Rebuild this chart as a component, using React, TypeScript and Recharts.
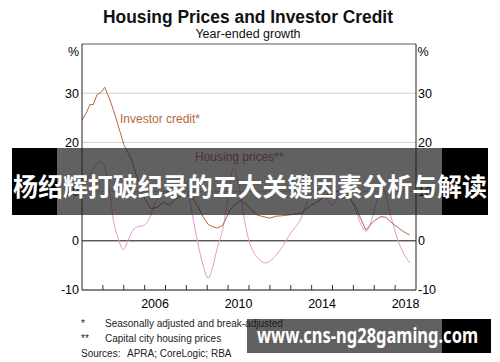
import React from 'react';
import { LineChart, Line, XAxis, YAxis, CartesianGrid, ReferenceLine } from 'recharts';

// ---------- data ----------
const housingYears = [
  2003.0, 2003.25, 2003.5, 2003.75, 2003.95, 2004.15, 2004.35, 2004.5, 2004.75, 2004.98,
  2005.2, 2005.4, 2005.7, 2005.95, 2006.25, 2006.5, 2006.75, 2007.0, 2007.25, 2007.5,
  2007.8, 2008.0, 2008.3, 2008.55, 2008.8, 2009.05, 2009.25, 2009.46, 2009.77, 2010.0,
  2010.25, 2010.5, 2010.75, 2011.0, 2011.25, 2011.5, 2011.8, 2012.1, 2012.5, 2013.0,
  2013.5, 2013.8, 2014.1, 2014.4, 2014.7, 2015.0, 2015.3, 2015.55, 2015.8, 2016.1,
  2016.35, 2016.6, 2016.95, 2017.25, 2017.45, 2017.7, 2018.1, 2018.4, 2018.7,
];
const housingValues = [
  11, 12.5, 14.3, 15.7, 16.1, 14, 9, 4.3, 0.3, -1.8,
  0, 1.9, 2.9, 3.1, 4.8, 7.7, 9.3, 9.8, 10.5, 12,
  13, 11.5, 5, -0.5, -5, -7.6, -5.5, -1.8, 2.9, 9,
  14.8, 11.5, 5, 0, -2.5, -3.8, -4.5, -3.8, -1.8, 1.6,
  4.6, 8, 10.3, 10.5, 8.5, 7.3, 9.5, 10.5, 9, 6.3,
  3.5, 1.9, 5.3, 9.8, 10.5, 6.5, 0.5, -2.5, -4.5,
];

const creditYears = [
  2003.0, 2003.23, 2003.38, 2003.54, 2003.73, 2003.9, 2004.09, 2004.34, 2004.58, 2004.82,
  2005.0, 2005.38, 2005.7, 2006.0, 2006.3, 2006.6, 2006.9, 2007.2, 2007.5, 2007.8,
  2008.05, 2008.3, 2008.55, 2008.8, 2009.05, 2009.3, 2009.5, 2009.75, 2010.1, 2010.35,
  2010.6, 2010.85, 2011.1, 2011.4, 2011.8, 2012.0, 2012.3, 2012.6, 2013.0, 2013.5,
  2013.9, 2014.4, 2014.75, 2015.0, 2015.3, 2015.6, 2015.85, 2016.1, 2016.35, 2016.6,
  2016.95, 2017.3, 2017.55, 2017.8, 2018.1, 2018.35, 2018.6, 2018.7,
];
const creditValues = [
  24.5, 26.2, 27.7, 27.7, 29.8, 30.1, 31.2, 28.6, 25.6, 22.2,
  19.6, 16.4, 12, 8.5, 6.5, 6.8, 7.8, 7.3, 8.5, 9.2,
  9.3, 8.7, 7, 4.9, 3.3, 2.8, 2.6, 3.2, 6.3, 7.5,
  8.2, 7.5, 6.3, 5.2, 4.8, 4.6, 5, 5.1, 5.3, 5.6,
  7, 8.3, 9.5, 9.7, 10.2, 10, 8.5, 7, 4.5, 2.2,
  3.9, 4.9, 4.8, 3.8, 2.8, 2, 1.4, 1.2,
];

const yTicks = [-10, 0, 10, 20, 30, 40];
const xTickYears = [2004, 2005, 2006, 2007, 2008, 2009, 2010, 2011, 2012, 2013, 2014, 2015, 2016, 2017, 2018];
const labelledYears = [2006, 2010, 2014, 2018];

const housingData = housingYears.map((x, i) => ({ x, v: housingValues[i] }));
const creditData = creditYears.map((x, i) => ({ x, v: creditValues[i] }));

// ---------- layout ----------
const W = 500;
const H = 362;
const YAXIS_W = 40;
const XAXIS_H = 30;
const MARGIN = { top: 44, right: 44, bottom: 42, left: 42 };
const X_MIN = 2003;
const X_MAX = 2019;
const PLOT_W = W - MARGIN.left - MARGIN.right - 2 * YAXIS_W;
const HALF_YEAR_PX = PLOT_W / (X_MAX - X_MIN) / 2;

const FONT = '"Liberation Sans", Arial, Helvetica, sans-serif';
const BROWN = '#b5693a';
const PINK = '#e596d3';
const PINK_TEXT = '#c0509a';

function XTick(props: any) {
  const { x, y, payload } = props;
  const value = payload?.value;
  const labelled = labelledYears.includes(value);
  return (
    <g>
      <line x1={x} x2={x} y1={y} y2={y - 5} stroke="#333" strokeWidth={1} />
      {labelled && (
        <text x={x + HALF_YEAR_PX} y={y + 17.5} textAnchor="middle" fontSize={12.5} fill="#000" fontFamily={FONT}>
          {value}
        </text>
      )}
    </g>
  );
}

export default function App() {
  const yFmt = (v: number) => (v === 40 ? '' : String(v));
  return (
    <div style={{ position: 'absolute', left: 0, top: 0, width: W, height: H, background: '#fff', overflow: 'hidden' }}>
      {/* text layer */}
      <svg width={W} height={H} style={{ position: 'absolute', left: 0, top: 0 }}>
        <text x={248} y={22.5} textAnchor="middle" fontSize={17.5} fontWeight={700} fill="#111" fontFamily={FONT} textLength={290} lengthAdjust="spacingAndGlyphs">
          Housing Prices and Investor Credit
        </text>
        <text x={248} y={38} textAnchor="middle" fontSize={12.5} fill="#111" fontFamily={FONT}>
          Year-ended growth
        </text>
        <text x={79} y={55.5} textAnchor="end" fontSize={12.5} fill="#000" fontFamily={FONT}>%</text>
        <text x={417.5} y={55.5} textAnchor="start" fontSize={12.5} fill="#000" fontFamily={FONT}>%</text>
        <text x={120} y={122.5} fontSize={12} fill={BROWN} fontFamily={FONT}>Investor credit*</text>
        <text x={195} y={161} fontSize={12} fill={PINK_TEXT} fontFamily={FONT}>Housing prices**</text>
        <g fontSize={10} fill="#222" fontFamily={FONT}>
          <text x={81} y={327}>*</text>
          <text x={105} y={327}>Seasonally adjusted and break-adjusted</text>
          <text x={81} y={341.5}>**</text>
          <text x={105} y={341.5}>Capital city housing prices</text>
          <text x={81} y={356.5}>Sources:</text>
          <text x={127} y={356.5}>APRA; CoreLogic; RBA</text>
        </g>
      </svg>

      {/* chart */}
      <div style={{ position: 'absolute', left: 0, top: 0 }}>
        <LineChart width={W} height={H} margin={MARGIN}>
          <CartesianGrid yAxisId="l" vertical={false} stroke="#cfcfcf" strokeWidth={1} />
          <XAxis
            dataKey="x"
            type="number"
            domain={[X_MIN, X_MAX]}
            ticks={xTickYears}
            interval={0}
            height={XAXIS_H}
            tickSize={0}
            tickMargin={0}
            tickLine={false}
            axisLine={{ stroke: '#222', strokeWidth: 1 }}
            tick={<XTick />}
            allowDataOverflow
          />
          <YAxis
            yAxisId="l"
            type="number"
            domain={[-10, 40]}
            ticks={yTicks}
            interval={0}
            width={YAXIS_W}
            tickSize={0}
            tickMargin={3}
            tickLine={false}
            axisLine={{ stroke: '#222', strokeWidth: 1 }}
            tick={{ fontSize: 12.5, fill: '#000', fontFamily: FONT }}
            tickFormatter={yFmt}
            allowDataOverflow
          />
          <YAxis
            yAxisId="r"
            orientation="right"
            type="number"
            domain={[-10, 40]}
            ticks={yTicks}
            interval={0}
            width={YAXIS_W}
            tickSize={0}
            tickMargin={2}
            tickLine={false}
            axisLine={{ stroke: '#222', strokeWidth: 1 }}
            tick={{ fontSize: 12.5, fill: '#000', fontFamily: FONT, textAnchor: 'start' }}
            tickFormatter={yFmt}
            allowDataOverflow
          />
          <ReferenceLine yAxisId="l" y={40} stroke="#999" strokeWidth={1.5} ifOverflow="extendDomain" />
          <ReferenceLine yAxisId="l" y={0} stroke="#222" strokeWidth={1} />
          <Line
            yAxisId="l"
            data={housingData}
            dataKey="v"
            type="monotone"
            stroke={PINK}
            strokeWidth={1}
            dot={false}
            activeDot={false}
            isAnimationActive={false}
          />
          <Line
            yAxisId="l"
            data={creditData}
            dataKey="v"
            type="linear"
            stroke={BROWN}
            strokeWidth={1}
            dot={false}
            activeDot={false}
            isAnimationActive={false}
          />
        </LineChart>
      </div>

      {/* overlay layer */}
      <svg width={W} height={H} style={{ position: 'absolute', left: 0, top: 0, pointerEvents: 'none' }}>
        <rect x={12} y={148} width={45} height={67} fill="#000" />
        <rect x={57} y={148} width={385} height={67} fill="rgba(30,30,30,0.7)" />
        <rect x={442} y={148} width={46} height={67} fill="#000" />
        <text
          x={13}
          y={185}
          dominantBaseline="central"
          fontSize={25}
          fontWeight={700}
          fill="#fff"
          fontFamily='"Noto Sans CJK SC", "Noto Sans CJK JP", sans-serif'
          textLength={474}
          lengthAdjust="spacingAndGlyphs"
        >
          杨绍辉打破纪录的五大关键因素分析与解读
        </text>
        <rect x={247} y={319} width={195} height={34} fill="rgba(30,30,30,0.7)" />
        <rect x={442} y={319} width={49} height={34} fill="#000" />
        <text
          x={257}
          y={343}
          fontSize={21}
          fontWeight={700}
          fill="#fff"
          fontFamily='"Noto Sans", "DejaVu Sans", sans-serif'
          textLength={221}
          lengthAdjust="spacingAndGlyphs"
        >
          www.cns-ng28gaming.com
        </text>
      </svg>
    </div>
  );
}
